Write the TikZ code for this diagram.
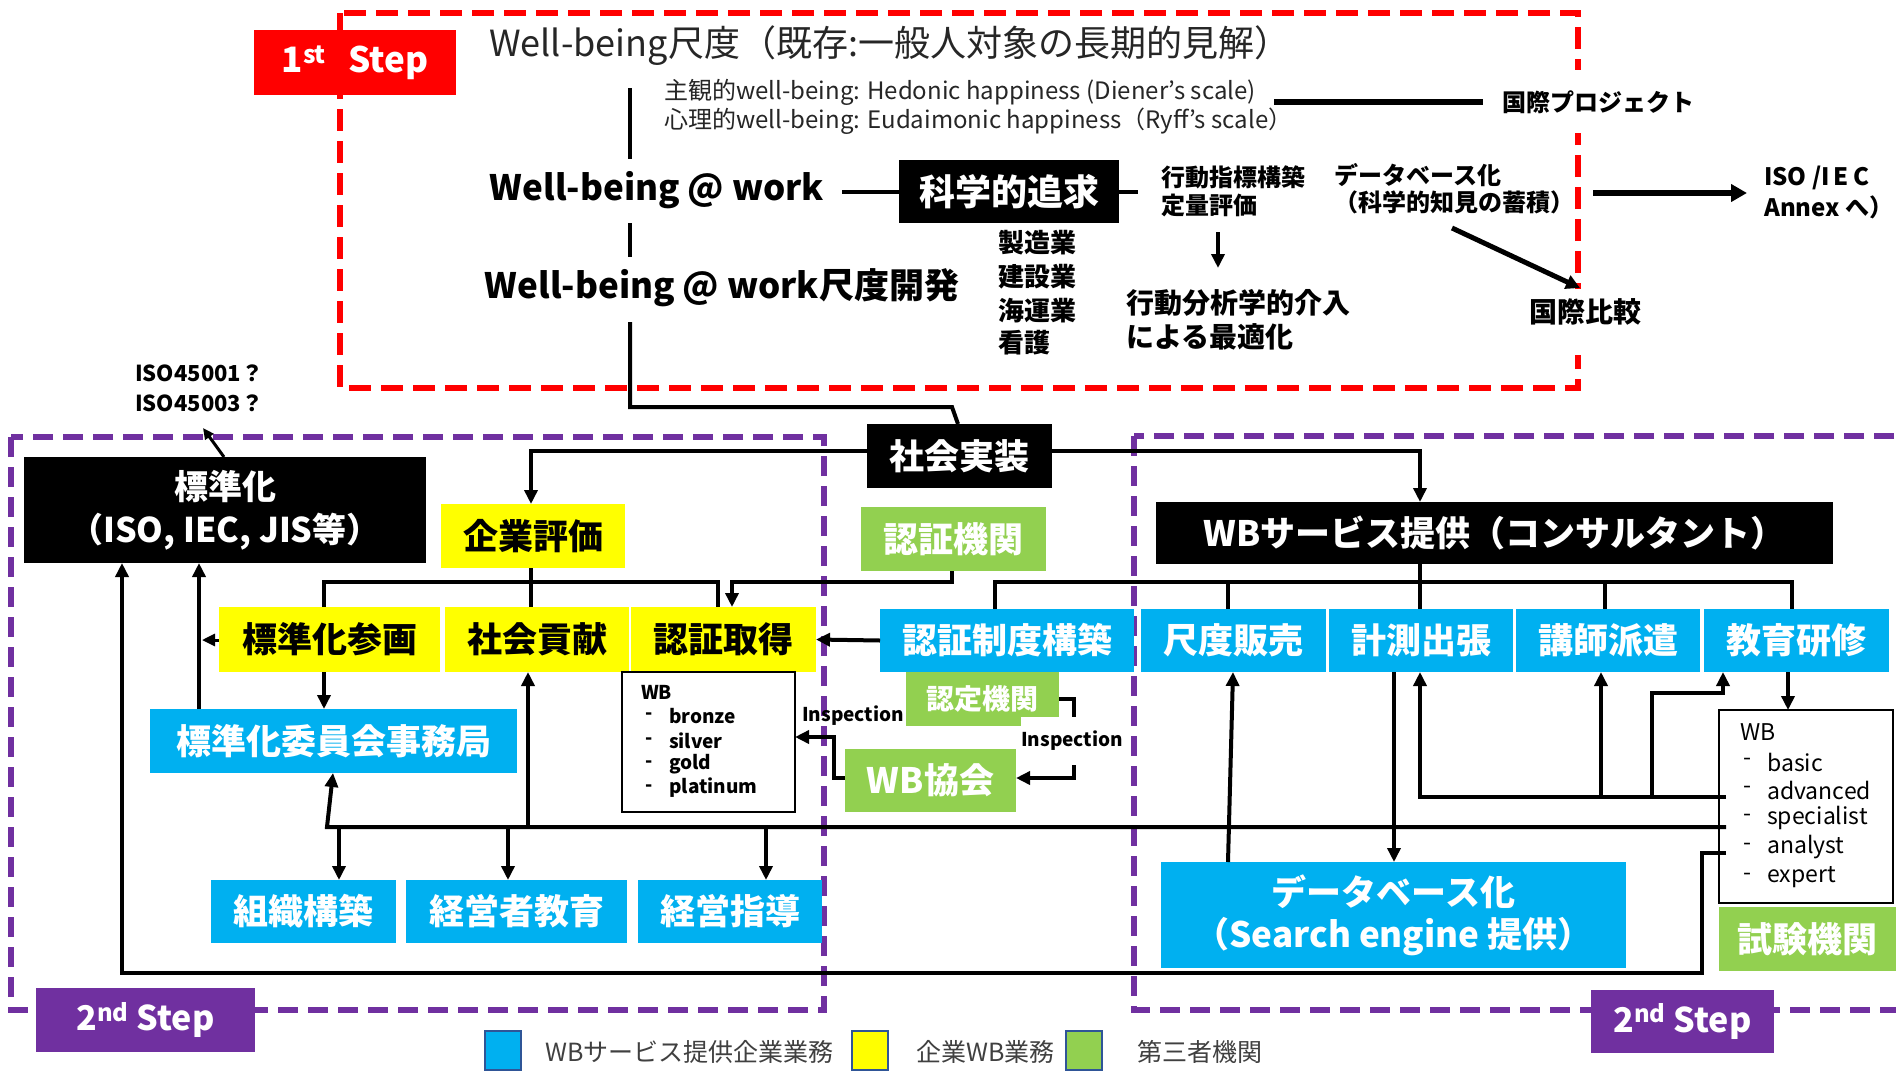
\documentclass[tikz,border=0pt]{standalone}
\usepackage{fontspec}
\setmainfont{Noto Sans CJK JP}
\usetikzlibrary{arrows.meta}
\definecolor{cblue}{HTML}{00B0F0}
\definecolor{cyel}{HTML}{FFFF00}
\definecolor{cgreen}{HTML}{92D050}
\definecolor{cred}{HTML}{FF0000}
\definecolor{cpurp}{HTML}{7030A0}
\definecolor{legb}{HTML}{2F5597}
\newcommand\fz[1]{\fontsize{#1}{#1}\selectfont}
\newcommand\RN[7]{%
 \pgfmathsetmacro\rw{#5-#3}\pgfmathsetmacro\rh{#6-#4}%
 \node[anchor=north west,minimum width=\rw pt,minimum height=\rh pt,inner sep=0pt,outer sep=0pt,#2] (#1) at (#3,#4) {#7};}
\tikzset{
 bk/.style={fill=black,text=white,font=\bfseries\fz{35}},
 yb/.style={fill=cyel,text=black,font=\bfseries\fz{35}},
 bb/.style={fill=cblue,text=white,font=\bfseries\fz{35}},
 gb/.style={fill=cgreen,text=white,font=\bfseries\fz{35}},
 conn/.style={line width=4pt},
 arr/.style={line width=4pt,-{Triangle[length=14pt,width=13pt]}},
 txt/.style={anchor=west,inner sep=0pt},
 reddash/.style={cred,line width=6pt,dash pattern=on 22pt off 10pt},
 purpdash/.style={cpurp,line width=6pt,dash pattern=on 20pt off 10pt},
}
\begin{document}
\begin{tikzpicture}[x=1pt,y=-1pt]
\useasboundingbox (0,0) rectangle (1896,1074);
\clip (0,0) rectangle (1896,1074);
\fill[white] (0,0) rectangle (1896,1074);
% dashed frames
\draw[reddash] (340,13) rectangle (1578,388);
\draw[purpdash] (11,437) rectangle (824,1010);
\draw[purpdash] (1134,436) rectangle (1960,1010);
\fill[white] (1560,70) rectangle (1600,133);
\fill[white] (1560,289) rectangle (1600,355);

% ===== 1st step =====
\RN{st1}{fill=cred,text=white,font=\bfseries\fz{35}}{254}{30}{456}{95}{1\textsuperscript{st}\hspace{22pt}Step}
\node[txt,font=\fz{36},text=black!85] (title) at (489,46) {Well-being尺度（既存:一般人対象の長期的見解）};
\node[txt,font=\fz{24},text=black!85] (sub1) at (664,92) {主観的well-being: Hedonic happiness (Diener’s scale)};
\node[txt,font=\fz{24},text=black!85] (sub2) at (664,121) {心理的well-being: Eudaimonic happiness（Ryff’s scale）};
\node[txt,font=\bfseries\fz{24}] (kp) at (1502,102) {国際プロジェクト};
\coordinate (kpL) at (1274,102);
\coordinate (kpR) at (1483,102);
\draw[line width=6pt] (kpL) -- (kpR);

\node[font=\bfseries\fz{35}] (wbw) at (657,190) {Well-being @ work};
\node[font=\bfseries\fz{35}] (wbd) at (722,288) {Well-being @ work尺度開発};
\RN{kg}{bk,font=\bfseries\fz{36}}{899}{160}{1119}{223}{科学的追求}
\draw[conn] (842,192) -- (kg.west |- 0,192);
\draw[conn] (kg.east |- 0,192) -- (1138,192);

\node[txt,font=\bfseries\fz{26}] (i1) at (998,243) {製造業};
\node[txt,font=\bfseries\fz{26}] (i2) at (998,277) {建設業};
\node[txt,font=\bfseries\fz{26}] (i3) at (998,311) {海運業};
\node[txt,font=\bfseries\fz{26}] (i4) at (998,343) {看護};

\node[txt,font=\bfseries\fz{24}] (kd1) at (1161,177) {行動指標構築};
\node[txt,font=\bfseries\fz{24}] (kd2) at (1161,205) {定量評価};
\node[txt,font=\bfseries\fz{28}] (ko1) at (1126,303) {行動分析学的介入};
\node[txt,font=\bfseries\fz{28}] (ko2) at (1126,337) {による最適化};
\draw[arr] (1218,232) -- (1218,268);

\node[txt,font=\bfseries\fz{24}] (dk1) at (1334,175) {データベース化};
\node[txt,font=\bfseries\fz{24}] (dk2) at (1334,202) {（科学的知見の蓄積）};
\node[txt,font=\bfseries\fz{24}] (iso3) at (1764,178) {ISO /I\kern4pt E\kern4pt C};
\node[txt,font=\bfseries\fz{24}] (iso4) at (1764,207) {Annex へ）};
\node[font=\bfseries\fz{28}] (kh) at (1585,312) {国際比較};
\draw[line width=6pt,-{Triangle[length=16pt,width=17pt]}] (1593,193) -- (1747,193);
\draw[line width=5pt,-{Triangle[length=14pt,width=14pt]}] (1452,228) -- (1580,288);

% 1st step vertical line to 社会実装
\RN{sj}{bk}{867}{424}{1052}{488}{社会実装}
\draw[conn] (630,88) -- (630,159);
\draw[conn] (630,223) -- (630,257);
\draw[conn] (630,322) -- (630,407) -- (952,407) -- (958,424);

% ===== 2nd step left =====
\node[txt,font=\bfseries\fz{22}] (iso1) at (135,373) {ISO45001？};
\node[txt,font=\bfseries\fz{22}] (iso2) at (135,403) {ISO45003？};
\RN{hz}{bk,align=center,font=\bfseries\fontsize{34}{43}\selectfont}{24}{457}{426}{563}{標準化\\（ISO, IEC, JIS等）}
\draw[line width=3pt,-{Triangle[length=11pt,width=10pt]}] (224,457) -- (203,428);

\RN{qy}{yb}{441}{504}{625}{568}{企業評価}
\RN{wbs}{bk}{1156}{502}{1833}{564}{WBサービス提供（コンサルタント）}
\RN{nk}{gb}{861}{507}{1046}{571}{認証機関}

\RN{hs}{yb}{219}{607}{440}{672}{標準化参画}
\RN{sk}{yb}{445}{607}{629}{672}{社会貢献}
\RN{ns}{yb}{631}{607}{816}{672}{認証取得}
\RN{ns2}{bb}{880}{609}{1134}{672}{認証制度構築}
\RN{sd}{bb}{1141}{609}{1326}{672}{尺度販売}
\RN{ks}{bb}{1329}{609}{1513}{672}{計測出張}
\RN{kh2}{bb}{1516}{609}{1700}{672}{講師派遣}
\RN{kk}{bb}{1704}{609}{1889}{672}{教育研修}
\RN{ji}{bb}{150}{709}{517}{773}{標準化委員会事務局}
\RN{nt}{gb,font=\bfseries\fz{28}}{906}{672}{1059}{726}{認定機関}
\RN{wk}{gb}{845}{749}{1016}{812}{WB協会}
\RN{wbl}{draw,line width=2pt,fill=white}{622}{672}{795}{812}{}
\RN{wbr}{draw,line width=2pt,fill=white}{1719}{710}{1893}{903}{}
\RN{sk2}{gb}{1719}{907}{1896}{971}{試験機関}
\RN{db}{bb,align=center,font=\bfseries\fontsize{35}{42}\selectfont}{1161}{862}{1626}{968}{データベース化\\（Search engine 提供）}
\RN{ss}{bb}{211}{880}{396}{943}{組織構築}
\RN{kyo}{bb}{406}{880}{627}{943}{経営者教育}
\RN{ksd}{bb}{638}{880}{822}{943}{経営指導}
\RN{st2a}{fill=cpurp,text=white,font=\bfseries\fz{34}}{36}{988}{255}{1052}{2\textsuperscript{nd} Step}
\RN{st2b}{fill=cpurp,text=white,font=\bfseries\fz{34}}{1591}{990}{1774}{1053}{2\textsuperscript{nd} Step}

% WB list (left)
\node[txt,font=\bfseries\fz{19}] (wl0) at (641,692) {WB};
\foreach \yy/\tt/\nm in {716/bronze/wl1,741/silver/wl2,764/gold/wl3,788/platinum/wl4}{
  \node[txt,font=\bfseries\fz{19}] at (645,\yy) {-};
  \node[txt,font=\bfseries\fz{19}] (\nm) at (669,\yy) {\tt};
}
% WB list (right)
\node[txt,font=\fz{23}] (wr0) at (1740,732) {WB};
\foreach \yy/\tt/\nm in {762/basic/wr1,790/advanced/wr2,818/specialist/wr3,847/analyst/wr4,877/expert/wr5}{
  \node[txt,font=\fz{23}] at (1743,\yy) {-};
  \node[txt,font=\fz{23}] (\nm) at (1767,\yy) {\tt};
}

% connectors 2nd step
\draw[arr] (sj.west |- 0,451) -| (531,504);
\draw[arr] (sj.east |- 0,451) -| (1420,502);
\draw[conn] (531,568) -- (531,607);
\draw[conn] (324,607) -- (324,582) -- (718,582) -- (718,607);
\draw[arr] (952,571) -- (952,582) -- (732,582) -- (732,607);
\draw[arr] (ns2.west) -- (ns.east);
\draw[conn] (995,609) -- (995,582) -- (1792,582) -- (1792,609);
\draw[conn] (1228,582) -- (1228,609);
\draw[conn] (1420,564) -- (1420,609);
\draw[conn] (1605,582) -- (1605,609);
\draw[arr] (324,672) -- (324,709);
\draw[arr] (199,709) -- (199,563);
\draw[line width=3pt,-{Triangle[length=13pt,width=12pt]}] (219,640) -- (202,640);
\draw[arr] (1726,827) -- (327,827) -- (333,773);
\draw[arr] (339,827) -- (339,880);
\draw[arr] (508,827) -- (508,880);
\draw[arr] (766,827) -- (766,880);
\draw[arr] (528,827) -- (528,672);
\draw[arr] (1228,862) -- (1233,672);
\draw[arr] (1394,672) -- (1394,862);
\draw[arr] (1726,797) -- (1420,797) -- (1420,672);
\draw[arr] (1601,797) -- (1601,672);
\draw[arr] (1652,797) -- (1652,693) -- (1723,693) -- (1723,672);
\draw[arr] (1788,672) -- (1788,710);
\draw[arr] (1726,853) -- (1702,853) -- (1702,973) -- (122,973) -- (122,563);
\draw[arr] (nt.east |- 0,699) -- (1074,699) -- (1074,778) -- (wk.east |- 0,778);
\draw[arr] (wk.west |- 0,778) -- (834,778) -- (834,737) -- (795,737);
\node[txt,font=\bfseries\fz{19}] (insp1) at (802,716) {Inspection};
\node[txt,font=\bfseries\fz{19},fill=white,inner ysep=14pt] (insp2) at (1021,741) {Inspection};

% legend
\RN{lg1}{fill=cblue,draw=legb,line width=2.5pt}{485}{1031}{521}{1070}{}
\RN{lg2}{fill=cyel,draw=legb,line width=2.5pt}{852}{1031}{888}{1070}{}
\RN{lg3}{fill=cgreen,draw=legb,line width=2.5pt}{1066}{1031}{1102}{1070}{}
\node[txt,font=\fz{25},text=black!75] (lt1) at (545,1052) {WBサービス提供企業業務};
\node[txt,font=\fz{25},text=black!75] (lt2) at (916,1052) {企業WB業務};
\node[txt,font=\fz{25},text=black!75] (lt3) at (1137,1052) {第三者機関};
\end{tikzpicture}
\end{document}
